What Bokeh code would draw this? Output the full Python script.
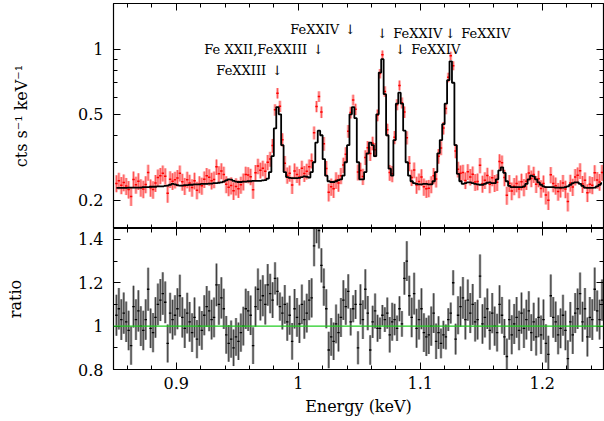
import numpy as np
from bokeh.plotting import figure
from bokeh.layouts import column
from bokeh.models import (Range1d, FixedTicker, CustomJSTickFormatter, LinearAxis,
                          LogAxis, Span, ColumnDataSource, CustomLabelingPolicy)
from bokeh.core.properties import value
from bokeh.embed import file_html
from bokeh.resources import INLINE

# ---------------- data ----------------
bin_start = 0.851      # centre of first energy bin (keV)
bin_width = 0.002      # keV
n_bins = 200

model = [
    0.228,0.228,0.228,0.228,0.228,0.229,0.229,0.229,0.229,0.229,
    0.229,0.230,0.230,0.230,0.231,0.231,0.231,0.232,0.232,0.232,
    0.233,0.234,0.236,0.238,0.237,0.235,0.234,0.234,0.235,0.235,
    0.236,0.236,0.237,0.237,0.237,0.238,0.238,0.238,0.239,0.239,
    0.240,0.240,0.241,0.242,0.244,0.247,0.250,0.249,0.246,0.244,
    0.243,0.243,0.244,0.244,0.245,0.245,0.246,0.246,0.246,0.246,
    0.247,0.248,0.252,0.270,0.320,0.430,0.540,0.500,0.360,0.270,
    0.256,0.254,0.253,0.253,0.253,0.254,0.256,0.258,0.257,0.255,
    0.270,0.300,0.370,0.420,0.400,0.310,0.260,0.245,0.243,0.243,
    0.245,0.248,0.250,0.260,0.300,0.360,0.500,0.540,0.480,0.300,
    0.250,0.250,0.270,0.330,0.370,0.360,0.320,0.500,0.780,0.900,
    0.620,0.400,0.280,0.260,0.380,0.560,0.630,0.560,0.420,0.300,
    0.260,0.245,0.240,0.238,0.237,0.237,0.238,0.238,0.237,0.237,
    0.245,0.270,0.330,0.380,0.450,0.560,0.720,0.880,0.700,0.360,
    0.265,0.245,0.238,0.240,0.242,0.242,0.240,0.238,0.237,0.236,
    0.236,0.238,0.241,0.242,0.240,0.240,0.250,0.275,0.284,0.268,
    0.245,0.233,0.230,0.230,0.230,0.230,0.230,0.232,0.238,0.250,
    0.260,0.258,0.250,0.242,0.236,0.232,0.230,0.230,0.230,0.230,
    0.229,0.229,0.229,0.229,0.230,0.232,0.236,0.240,0.242,0.242,
    0.238,0.233,0.229,0.228,0.228,0.228,0.229,0.232,0.236,0.240,
]

ratio = [
    1.05,1.08,1.03,1.06,1.02,0.98,0.91,1.09,1.03,1.07,
    1.00,0.98,1.03,1.17,0.99,0.97,1.04,1.10,1.12,1.15,
    1.11,0.92,1.06,1.03,1.05,1.08,1.14,1.04,0.99,1.06,
    1.02,0.97,1.04,0.94,1.00,0.98,1.05,1.09,1.07,1.03,
    1.04,1.19,1.10,1.13,1.08,0.96,0.92,0.94,0.90,0.95,
    0.93,0.97,1.00,1.08,1.07,1.05,0.91,1.09,1.17,1.12,
    1.14,1.10,1.19,1.15,1.12,1.22,1.16,1.09,1.06,1.10,
    1.02,1.05,0.93,1.08,1.04,1.01,1.10,1.03,1.06,1.12,
    1.13,1.37,1.47,1.44,1.28,1.18,1.08,0.89,0.95,0.93,
    1.01,0.97,1.04,1.12,1.09,1.16,1.02,1.08,1.10,0.90,
    1.10,1.03,1.17,1.06,0.89,1.02,1.07,0.99,0.99,1.05,
    1.03,1.06,0.96,1.02,1.03,0.99,1.08,1.01,1.22,1.30,
    1.14,1.04,1.15,0.99,1.03,1.08,0.97,0.95,0.96,1.00,
    1.06,0.93,0.97,0.92,0.96,0.95,1.03,1.06,1.20,0.94,
    1.05,1.09,1.13,1.03,1.12,1.06,1.10,1.02,1.03,1.23,
    1.01,1.04,1.08,0.98,1.06,1.00,0.97,1.10,1.05,0.95,
    0.86,1.03,0.96,1.01,1.04,0.98,1.06,0.99,1.03,1.07,
    0.97,1.02,0.95,1.04,0.96,1.03,0.92,0.87,1.14,1.04,
    1.02,0.96,0.99,1.05,0.98,0.85,1.02,0.96,1.06,1.08,
    1.15,1.02,1.08,0.95,1.04,1.03,1.17,1.07,1.03,1.12,
]

line_energy = [0.9828, 1.0164, 1.0426, 1.0689, 1.0836, 1.1246]
line_label = ["FeXXIII", "Fe XXII,FeXXIII", "FeXXIV", "FeXXIV", "FeXXIV", "FeXXIV"]

x_ticks = [0.9, 1.0, 1.1, 1.2]
top_y_ticks = [0.2, 0.5, 1]
ratio_ticks = [0.8, 1, 1.2, 1.4]

# ---------------- derived ----------------
energy = np.array([bin_start + bin_width * i for i in range(n_bins)])
model_a = np.array(model)
ratio_a = np.array(ratio)
data_a = model_a * ratio_a                       # observed = model x ratio
rel_err = 0.09 * np.sqrt(0.24 / data_a)          # Poisson-like relative error
half = bin_width / 2

src = ColumnDataSource(dict(
    e=energy, e0=energy - half, e1=energy + half,
    d=data_a, dlo=data_a * (1 - rel_err), dhi=data_a * (1 + rel_err),
    r=ratio_a, rlo=ratio_a * (1 - rel_err), rhi=ratio_a * (1 + rel_err),
    m=model_a,
))

FONT = "DejaVu Serif"
x_range = Range1d(0.8486, 1.2502)
fmt = CustomJSTickFormatter(code="return tick.toString();")
x_minor = [round(0.86 + 0.02 * k, 2) for k in range(20)]
no_labels = CustomLabelingPolicy(code="""
const n = (indices.size != null) ? indices.size : bboxes.length;
for (let i = 0; i < n; i++) { indices.unset(i); }
return indices;
""")


def style_axis(ax, labels=True):
    ax.axis_line_color = "black"
    ax.axis_line_width = 1.2
    ax.major_tick_in = 7
    ax.major_tick_out = 0
    ax.minor_tick_in = 4
    ax.minor_tick_out = 0
    ax.major_tick_line_color = "black"
    ax.minor_tick_line_color = "black"
    ax.major_label_text_font = FONT
    ax.major_label_text_color = "black"
    ax.axis_label_text_font = FONT
    ax.axis_label_text_font_size = "16px"
    ax.axis_label_text_font_style = "normal"
    ax.axis_label_text_color = "black"
    if labels:
        ax.major_label_text_font_size = "16px"
    else:
        ax.major_label_text_font_size = "0px"
        ax.major_label_standoff = 0
        ax.major_label_policy = no_labels


# ---------------- top panel ----------------
p1 = figure(width=604, height=228, x_range=x_range, y_range=Range1d(0.148, 1.63),
            y_axis_type="log", output_backend="svg", toolbar_location=None,
            min_border_left=113, min_border_right=1, min_border_top=3, min_border_bottom=0)
p1.grid.visible = False
p1.outline_line_color = "black"

ytk = FixedTicker(ticks=top_y_ticks, minor_ticks=[0.2, 0.3, 0.4, 0.5, 0.6, 0.7, 0.8, 0.9, 1])
xtk = FixedTicker(ticks=x_ticks, minor_ticks=x_minor)
p1.yaxis.ticker = ytk
p1.yaxis.formatter = fmt
p1.yaxis.axis_label = "cts s⁻¹ keV⁻¹"
style_axis(p1.yaxis[0])
p1.yaxis.major_label_standoff = 10
p1.yaxis.axis_label_standoff = 44
p1.xaxis.ticker = xtk
style_axis(p1.xaxis[0], labels=False)
ra = LogAxis(ticker=ytk, formatter=fmt)
style_axis(ra, labels=False)
p1.add_layout(ra, "right")
ta = LinearAxis(ticker=xtk, formatter=fmt)
style_axis(ta, labels=False)
p1.add_layout(ta, "above")

p1.segment(x0="e", y0="dlo", x1="e", y1="dhi", source=src,
           line_color="#ff4040", line_alpha=0.4, line_width=3)
p1.segment(x0="e", y0="dlo", x1="e", y1="dhi", source=src,
           line_color="#ff0000", line_alpha=0.55, line_width=1)
p1.segment(x0="e0", y0="d", x1="e1", y1="d", source=src,
           line_color="#ff0000", line_width=1.5)
p1.step(x="e", y="m", source=src, mode="center", line_color="black", line_width=1.8)

# line annotations
ann_y = [0.80, 1.0, 1.238, 1.19, 1.0, 1.19]
ann_side = ["left", "left", "left", "right", "right", "right"]
for xe, yy, lab, side in zip(line_energy, ann_y, line_label, ann_side):
    p1.text(x=[xe], y=[yy], text=["↓"], text_align="center", text_baseline="middle",
            text_font=value(FONT), text_font_size="13px", text_color="black")
    if side == "left":
        p1.text(x=[xe], y=[yy], text=[lab], text_align="right", text_baseline="middle",
                x_offset=-11, text_font=value(FONT), text_font_size="13px", text_color="black")
    else:
        p1.text(x=[xe], y=[yy], text=[lab], text_align="left", text_baseline="middle",
                x_offset=11, text_font=value(FONT), text_font_size="13px", text_color="black")

# ---------------- bottom panel ----------------
p2 = figure(width=604, height=193, x_range=x_range, y_range=Range1d(0.8, 1.45),
            output_backend="svg", toolbar_location=None,
            min_border_left=113, min_border_right=1, min_border_top=0, min_border_bottom=52)
p2.grid.visible = False
p2.outline_line_color = "black"
rtk = FixedTicker(ticks=ratio_ticks, minor_ticks=[0.8, 0.9, 1.0, 1.1, 1.2, 1.3, 1.4])
p2.yaxis.ticker = rtk
p2.yaxis.formatter = fmt
p2.yaxis.axis_label = "ratio"
style_axis(p2.yaxis[0])
p2.yaxis.major_label_standoff = 10
p2.yaxis.axis_label_standoff = 50
p2.xaxis.ticker = xtk
p2.xaxis.formatter = fmt
p2.xaxis.axis_label = "Energy (keV)"
style_axis(p2.xaxis[0])
p2.xaxis.major_label_standoff = 7
p2.xaxis.axis_label_standoff = 5
ra2 = LinearAxis(ticker=rtk, formatter=fmt)
style_axis(ra2, labels=False)
p2.add_layout(ra2, "right")
ta2 = LinearAxis(ticker=xtk, formatter=fmt)
style_axis(ta2, labels=False)
p2.add_layout(ta2, "above")

p2.add_layout(Span(location=1, dimension="width", line_color="#22cc22", line_width=1.2))
p2.segment(x0="e", y0="rlo", x1="e", y1="rhi", source=src,
           line_color="#666666", line_alpha=0.65, line_width=2.5)
p2.segment(x0="e", y0="rlo", x1="e", y1="rhi", source=src,
           line_color="black", line_alpha=0.6, line_width=1)
p2.segment(x0="e0", y0="r", x1="e1", y1="r", source=src,
           line_color="black", line_width=1.3)

layout = column(p1, p2, spacing=0)
open("out.html", "w").write(file_html(layout, INLINE))
